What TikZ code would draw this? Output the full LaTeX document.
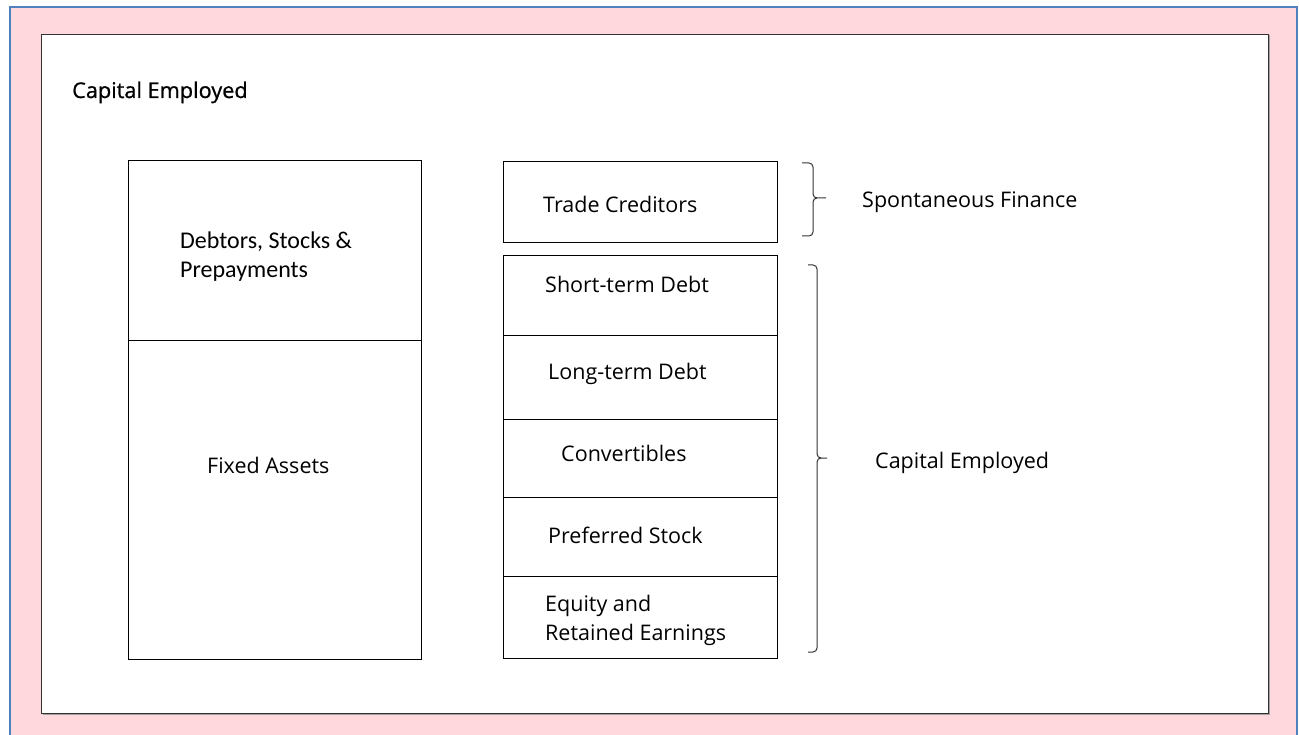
\documentclass[tikz,border=0pt]{standalone}
\usepackage{fontspec}
\setmainfont{Open Sans}
\newfontfamily\calfont{Carlito}
\newfontfamily\titlefont[FakeBold=0.8]{Open Sans}
\definecolor{pinkbg}{RGB}{255,216,221}
\definecolor{blueline}{RGB}{79,129,189}
\definecolor{frameline}{RGB}{50,50,50}
\definecolor{shadowc}{RGB}{160,160,160}
\begin{document}
\begin{tikzpicture}[x=1pt,y=-1pt,
  cell/.style={draw=black, line width=1.2pt, inner sep=0pt, anchor=north west},
  lbl/.style={inner sep=0pt, anchor=base west, font=\fontsize{21.5}{29}\selectfont},
  callbl/.style={inner sep=0pt, anchor=base west, align=left, font=\calfont\fontsize{24}{29}\selectfont},
  brace/.style={draw=black!80, line width=1pt}]
\useasboundingbox (0,0) rectangle (1299,735);
\fill[white] (0,0) rectangle (1299,735);
\fill[pinkbg] (10,7) rectangle (1297,736);
\draw[blueline, line width=1.5pt] (10,736) -- (10,7) -- (1297,7) -- (1297,736);
% inner frame with shadow
\fill[shadowc] (42.5,35.5) rectangle (1269.5,714.5);
\node[draw=frameline, fill=white, line width=1.2pt, inner sep=0pt, anchor=north west,
      minimum width=1227pt, minimum height=679pt] (frame) at (41,34) {};
\node[inner sep=0pt, anchor=base west, font=\titlefont\fontsize{21.7}{26}\selectfont] (title) at (72,98) {Capital Employed};
% left column
\node[cell, minimum width=293pt, minimum height=180pt] (cur) at (128,160) {};
\node[cell, minimum width=293pt, minimum height=319pt] (fix) at (128,340) {};
\node[callbl] (curt) at (180,278) {Debtors, Stocks \&\\Prepayments};
\node[lbl] (fixt) at (207,473) {Fixed Assets};
% right column
\node[cell, minimum width=274pt, minimum height=81pt] (tc) at (503,161) {};
\node[cell, minimum width=274pt, minimum height=80pt] (std) at (503,255) {};
\node[cell, minimum width=274pt, minimum height=84pt] (ltd) at (503,335) {};
\node[cell, minimum width=274pt, minimum height=78pt] (conv) at (503,419) {};
\node[cell, minimum width=274pt, minimum height=79pt] (pref) at (503,497) {};
\node[cell, minimum width=274pt, minimum height=82pt] (eq) at (503,576) {};
\node[lbl] (tct) at (543,213) {Trade Creditors};
\node[lbl] (stdt) at (545,293) {Short-term Debt};
\node[lbl] (ltdt) at (548,379) {Long-term Debt};
\node[lbl] (convt) at (561,461) {Convertibles};
\node[lbl] (preft) at (548,543) {Preferred Stock};
\node[lbl, align=left] (eqt) at (545,640) {Equity and\\Retained Earnings};
% braces
\coordinate (b1top) at (802,163);
\coordinate (b1bot) at (802,236);
\coordinate (b1tip) at (826,198);
\draw[brace] (b1top) -- (809,163) to[out=0,in=90] (813,167) -- (813,194) to[out=-90,in=180] (817,198) -- (b1tip);
\draw[brace] (b1bot) -- (809,236) to[out=0,in=-90] (813,232) -- (813,202) to[out=90,in=180] (817,198);
\coordinate (b2top) at (808,265);
\coordinate (b2bot) at (808,652);
\coordinate (b2tip) at (827,458);
\draw[brace] (b2top) -- (813,265) to[out=0,in=90] (817,269) -- (817,454) to[out=-90,in=180] (821,458) -- (b2tip);
\draw[brace] (b2bot) -- (813,652) to[out=0,in=-90] (817,648) -- (817,462) to[out=90,in=180] (821,458);
\node[lbl] (sf) at (862,208) {Spontaneous Finance};
\node[lbl] (ce) at (875,468) {Capital Employed};
\end{tikzpicture}
\end{document}
